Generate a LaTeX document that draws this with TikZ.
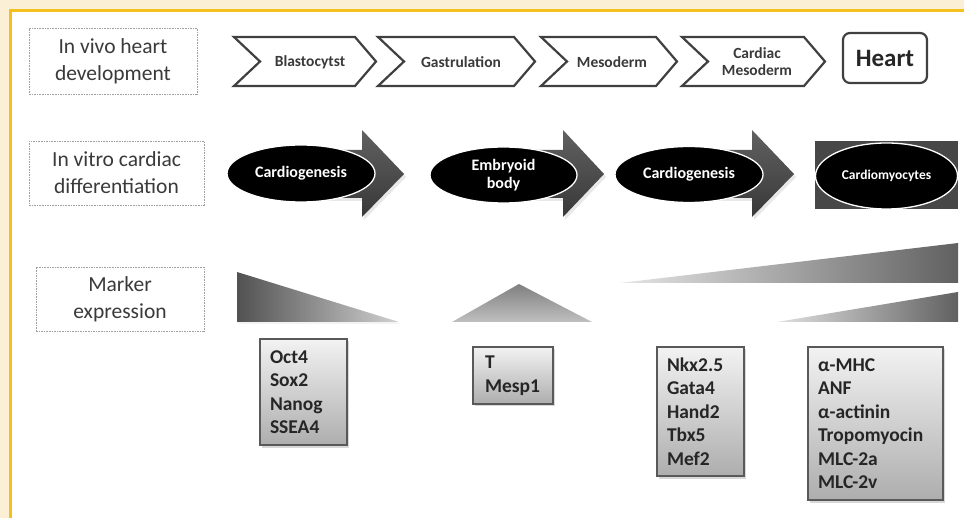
\documentclass[tikz,border=0pt]{standalone}
\usepackage{fontspec}
\setmainfont{Carlito}
\usetikzlibrary{shapes.geometric,shadows}
\definecolor{cream}{HTML}{FBEFD6}
\definecolor{gold}{HTML}{F4C01F}
\definecolor{chev}{HTML}{404040}
\definecolor{lbltxt}{HTML}{3A3A3A}
\begin{document}
\begin{tikzpicture}[x=1pt,y=-1pt,
  lblbox/.style={draw=gray!75, dash pattern=on 1.6pt off 1pt, line width=0.8pt,
    align=center, inner sep=0pt, text=lbltxt, font=\fontsize{21.5}{27}\selectfont},
  chevshape/.style={draw=chev, line width=2.2pt, fill=white, line join=miter},
  chevtext/.style={font=\bfseries\fontsize{15.5}{17}\selectfont, text=chev!90!black, align=center, inner sep=0pt},
  blockarrow/.style={top color=black!62, bottom color=black!78, draw=none,
    drop shadow={shadow xshift=2pt, shadow yshift=-3pt, opacity=0.18}},
  cellell/.style={ellipse, fill=black, draw=white, line width=1.3pt, inner sep=0pt,
    text=white, align=center, font=\bfseries\fontsize{16}{18}\selectfont},
  markbox/.style={draw=black!65, line width=1.2pt, top color=black!5, bottom color=black!32,
    align=left, inner xsep=10pt, inner ysep=0pt, text=black!85,
    font=\bfseries\fontsize{19.5}{23.5}\selectfont,
    drop shadow={shadow xshift=2pt, shadow yshift=-2.5pt, opacity=0.3}}
]
\useasboundingbox (0,0) rectangle (964,518);
% frame
\fill[cream] (0,0) rectangle (964,518);
\fill[white] (11,11) rectangle (964,518);
\draw[gold, line width=2.6pt] (10.5,518) -- (10.5,10.5) -- (964,10.5);

% row labels
\node[lblbox, minimum width=168pt, minimum height=66pt] (lblvivo) at (113,61) {In vivo heart\\development};
\node[lblbox, minimum width=175pt, minimum height=64pt] (lblvitro) at (116.5,173) {In vitro cardiac\\differentiation};
\node[lblbox, minimum width=168pt, minimum height=64pt] (lblmarker) at (120,299) {Marker\\expression};

% chevrons (row 1)
\foreach \L/\R in {234/376, 378/535, 541/677, 682/825}{
  \draw[chevshape] (\L,37) -- ({\R-21},37) -- (\R,61.5) -- ({\R-21},86) -- (\L,86) -- ({\L+26},61.5) -- cycle;
}
\node[chevtext] (blasto) at (310,62) {Blastocytst};
\node[chevtext] (gastru) at (461,62) {Gastrulation};
\node[chevtext] (meso) at (612,62) {Mesoderm};
\node[chevtext] (cardmeso) at (757,62) {Cardiac\\Mesoderm};
\node[draw=chev, line width=2.2pt, rounded corners=7pt, minimum width=84pt, minimum height=50pt,
  inner sep=0pt, font=\bfseries\fontsize{25}{28}\selectfont, text=black!85] (heart) at (885,58) {Heart};

% block arrows (row 2)
\foreach \S/\H/\T in {300/362/404, 503/563/604, 689/752/794}{
  \path[blockarrow] (\S,150) -- (\H,150) -- (\H,130) -- (\T,174) -- (\H,217) -- (\H,198) -- (\S,198) -- cycle;
}
\node[cellell, minimum width=148pt, minimum height=57pt] (ell1) at (301,173.5) {Cardiogenesis};
\node[cellell, minimum width=147pt, minimum height=56pt] (ell2) at (503.5,175) {Embryoid\\body};
\node[cellell, minimum width=148pt, minimum height=56pt] (ell3) at (689,174.5) {Cardiogenesis};
\fill[black!72] (815,141) rectangle (958,209);
\node[cellell, minimum width=142pt, minimum height=66pt, font=\bfseries\fontsize{13.5}{16}\selectfont] (ell4) at (886.5,176) {Cardiomyocytes};

% marker expression triangles (row 3)
\fill[black!8, opacity=0.6] (238,324) -- (401,324) -- (238,275) -- cycle;
\shade[left color=black!68, right color=black!18] (237,272) -- (237,322) -- (399,322) -- cycle;
\shade[top color=black!50, bottom color=black!25] (452,322) -- (519,284) -- (592,322) -- cycle;
\shade[left color=black!10, right color=black!62] (620,283) -- (958,243) -- (958,283) -- cycle;
\shade[left color=black!12, right color=black!62] (777,322) -- (958,292) -- (958,322) -- cycle;

% marker boxes
\node[markbox, text width=67pt, minimum height=106pt] (mk1) at (303.5,392) {Oct4\\Sox2\\Nanog\\SSEA4};
\node[markbox, text width=56pt, inner xsep=12pt, minimum height=57pt] (mk2) at (513,375.5) {T\\Mesp1};
\node[markbox, text width=67pt, minimum height=129pt] (mk3) at (700.5,411.5) {Nkx2.5\\Gata4\\Hand2\\Tbx5\\Mef2};
\node[markbox, text width=115pt, minimum height=153pt] (mk4) at (875.5,423.5) {α-MHC\\ANF\\α-actinin\\Tropomyocin\\MLC-2a\\MLC-2v};
\end{tikzpicture}
\end{document}
